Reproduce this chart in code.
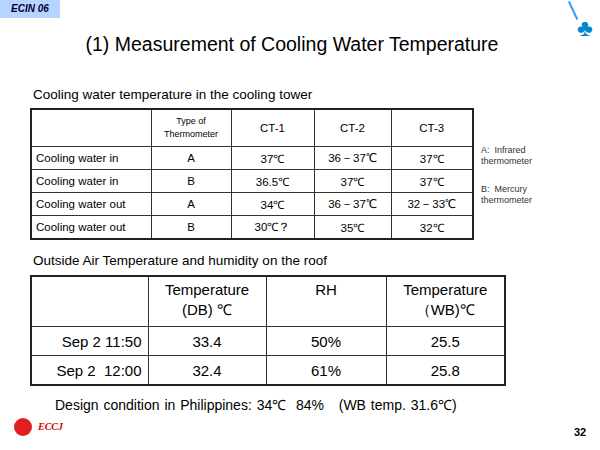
<!DOCTYPE html>
<html><head><meta charset="utf-8">
<script src="https://cdn.jsdelivr.net/npm/chart.js@4"></script>
<style>
body{margin:0;width:600px;height:450px;background:#fff;font-family:Arial,"Liberation Sans",sans-serif;position:relative;overflow:hidden}
.abs{position:absolute}
table{border-collapse:collapse;position:absolute;table-layout:fixed}
td{border:1px solid #333;padding:0 4px;white-space:nowrap}
table{border:2px solid #222}
#t1 td{font-size:11.5px;height:22px;text-align:center}
#t1 td:first-child{text-align:left}
#t1 tr:first-child td{height:36px}
#t2 td{font-size:15px;height:28px;text-align:center}
#t2 td:first-child{text-align:right;padding-right:6px}
#t2 tr:first-child td{height:46px;line-height:20px;vertical-align:top;padding-top:3px}
</style></head><body>
<div class="abs" style="left:0;top:0;width:60px;height:18px;background:#b7d3ff;font:bold italic 10px Arial;color:#003;text-align:center;line-height:18px">ECIN 06</div>
<div class="abs" style="left:0;width:584px;top:33px;text-align:center;font-size:19.5px">(1) Measurement of Cooling Water Temperature</div>
<div class="abs" style="left:33px;top:87px;font-size:13.5px">Cooling water temperature in the cooling tower</div>
<table id="t1" style="left:30px;top:108px;width:442px"></table>
<div class="abs" style="left:481px;top:145px;font-size:9px;line-height:11px;color:#333">A:&nbsp; Infrared<br>thermometer</div>
<div class="abs" style="left:481px;top:184px;font-size:9px;line-height:11px;color:#333">B:&nbsp; Mercury<br>thermometer</div>
<div class="abs" style="left:33px;top:253px;font-size:13.5px">Outside Air Temperature and humidity on the roof</div>
<table id="t2" style="left:30px;top:275px;width:474px"></table>
<div class="abs" style="left:55px;top:395px;font-size:14px;word-spacing:1px">Design condition in Philippines: 34℃&nbsp; 84%&nbsp;&nbsp; (WB temp. 31.6℃)</div>
<div class="abs" style="left:574px;top:426px;font:bold 11px Arial">32</div>
<div class="abs" style="left:14px;top:418px;width:18px;height:18px;border-radius:50%;background:#e02020"></div>
<div class="abs" style="left:38px;top:421px;font:bold italic 10px 'Liberation Serif',serif;color:#c00">ECCJ</div>
<div class="abs" style="left:572px;top:0px;width:2px;height:20px;border-left:2px solid #39f;transform:rotate(-25deg)"></div>
<div class="abs" style="left:577px;top:14px;font-size:24px;color:#08c">♣</div>
<script>
const t1Header = ["", "Type of<br>Thermometer", "CT-1", "CT-2", "CT-3"];
const t1Labels = ["Cooling water in", "Cooling water in", "Cooling water out", "Cooling water out"];
const t1Types = ["A", "B", "A", "B"];
const t1CT1 = ["37℃", "36.5℃", "34℃", "30℃？"];
const t1CT2 = ["36－37℃", "37℃", "36－37℃", "35℃"];
const t1CT3 = ["37℃", "37℃", "32－33℃", "32℃"];
const t1Widths = [120, 80, 83, 77, 82];

const t2Header = ["", "Temperature<br>(DB) ℃", "RH", "Temperature<br>（WB)℃"];
const t2Labels = ["Sep 2 11:50", "Sep 2&nbsp; 12:00"];
const t2DB = ["33.4", "32.4"];
const t2RH = ["50%", "61%"];
const t2WB = ["25.5", "25.8"];
const t2Widths = [117, 118, 120, 119];

function build(id, widths, header, rows) {
  const t = document.getElementById(id);
  let h = "<colgroup>" + widths.map(w => `<col style="width:${w}px">`).join("") + "</colgroup>";
  h += "<tr>" + header.map((c, i) => `<td${id === "t1" && i === 1 ? ' style="font-size:9px;line-height:13px"' : ""}>${c}</td>`).join("") + "</tr>";
  rows.forEach(r => { h += "<tr>" + r.map(c => `<td>${c}</td>`).join("") + "</tr>"; });
  t.innerHTML = h;
}
build("t1", t1Widths, t1Header, t1Labels.map((l, i) => [l, t1Types[i], t1CT1[i], t1CT2[i], t1CT3[i]]));
build("t2", t2Widths, t2Header, t2Labels.map((l, i) => [l, t2DB[i], t2RH[i], t2WB[i]]));
</script>
</body></html>
